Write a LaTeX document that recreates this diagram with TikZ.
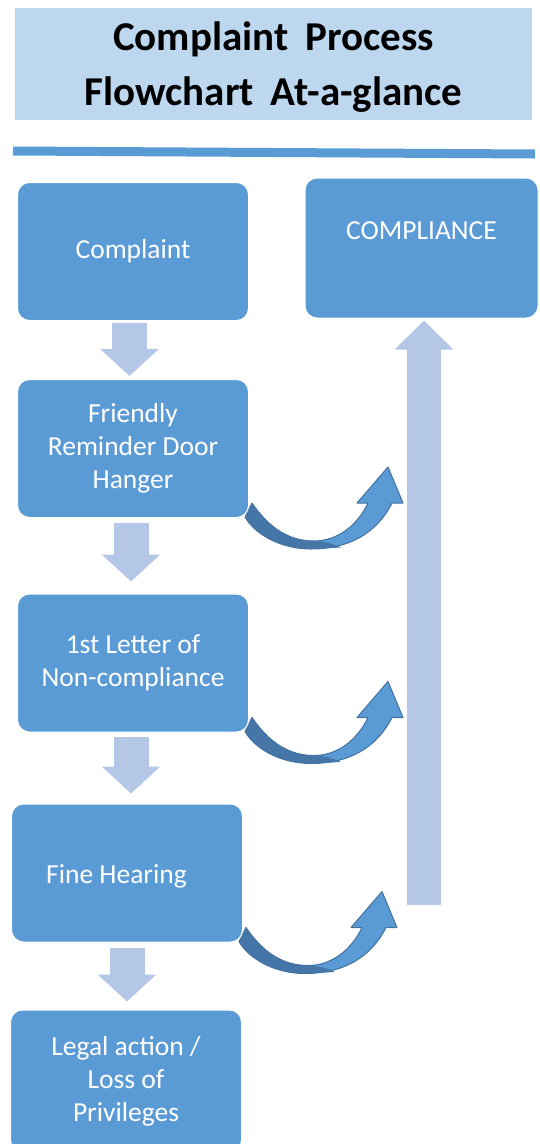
\documentclass[tikz,border=0pt]{standalone}
\usepackage{fontspec}
\setmainfont{Carlito}
\usetikzlibrary{arrows.meta,positioning,backgrounds}
\definecolor{boxblue}{HTML}{5B9BD5}
\definecolor{paleblue}{HTML}{B4C7E7}
\definecolor{titleblue}{HTML}{BDD7EE}
\definecolor{bandline}{HTML}{41719C}
\definecolor{banddark}{HTML}{4675A8}

\tikzset{
  stepbox/.style={draw=white, line width=1pt, fill=boxblue, rounded corners=12pt,
    minimum width=231pt, minimum height=138pt, inner sep=0pt},
  boxtext/.style={text=white, font=\fontsize{27.5}{33}\selectfont, align=center},
  titlebox/.style={fill=titleblue, minimum width=517pt, minimum height=112pt,
    font=\bfseries\fontsize{41}{55}\selectfont, align=center},
  downarrow/.style={draw=paleblue, line width=35pt, -{Triangle[width=57pt,length=27pt]}},
  uparrow/.style={draw=paleblue, line width=34pt, -{Triangle[width=57pt,length=29pt]}},
  bend arrow/.pic={
    % ribbon and head
    \filldraw[draw=bandline, fill=boxblue, line width=1pt, line join=round]
      (3,-15) .. controls (20,10) and (40,23) .. (65,23)
      .. controls (88,23) and (108,8) .. (119,-15)
      -- (108,-15) -- (139,-51) -- (154,-15) -- (143,-15)
      .. controls (128,15) and (100,31) .. (62,31)
      .. controls (30,31) and (5,15) .. (-4,-1) -- cycle;
    % darker underside
    \fill[banddark]
      (3,-15) .. controls (20,10) and (40,23) .. (65,23)
      .. controls (75,23) and (85,26) .. (92,29.5)
      -- (62,31)
      .. controls (30,31) and (5,15) .. (-4,-1) -- cycle;
  }
}

\begin{document}
\begin{tikzpicture}[x=1pt, y=-1pt]
  \clip (0,0) rectangle (540,1144);

  % title and rule
  \node[titlebox] (title) at (273.5,64) {};
  \node[font=\bfseries\fontsize{41}{55}\selectfont, align=center] (titletext) at ([yshift=-3pt]title.center)
    {Complaint\hspace{17pt}Process\\Flowchart\hspace{17pt}At-a-glance};
  \draw[boxblue, line width=9pt] (13,151) -- (535,154);

  % steps
  \node[stepbox, boxtext] (complaint) at (133,251.5) {Complaint};
  \node[stepbox, boxtext, minimum width=233pt, minimum height=140pt] (compliance) at (421.5,248) {};
  \node[boxtext] (compliancetext) at ([yshift=17pt]compliance.center) {COMPLIANCE};
  \node[stepbox, boxtext] (reminder) at (133,448.5) {Friendly\\Reminder Door\\Hanger};
  \node[stepbox, boxtext] (letter) at (133,663) {1st Letter of\\Non-compliance};
  \node[stepbox, boxtext] (fine) at (127,873) {};
  \node[boxtext, anchor=west, inner sep=0pt] (finetext) at ([xshift=35pt,yshift=-3pt]fine.west) {Fine Hearing};
  \node[stepbox, boxtext, minimum height=142pt] (legal) at (126,1081) {Legal action /\\Loss of\\Privileges};

  % down arrows
  \draw[downarrow, shorten <=2pt, shorten >=3pt] ([xshift=-3.5pt]complaint.south) -- ([xshift=-3.5pt]reminder.north);
  \draw[downarrow, shorten <=5pt, shorten >=12pt] ([xshift=-2pt]reminder.south) -- ([xshift=-2pt]letter.north);
  \draw[downarrow, shorten <=4pt, shorten >=10pt] ([xshift=-2pt]letter.south) -- ([xshift=-2pt]letter.south |- fine.north);
  \draw[downarrow, shorten <=5pt, shorten >=8pt] (fine.south) -- (fine.south |- legal.north);

  % way back to compliance
  \coordinate (upstart) at (424,905);
  \draw[uparrow, shorten >=2pt] (upstart) -- ([xshift=2.5pt]compliance.south);

  \begin{scope}[on background layer]
    \pic at (reminder.south east) {bend arrow};
    \pic at (letter.south east) {bend arrow};
    \pic at (fine.south east) {bend arrow};
  \end{scope}
\end{tikzpicture}
\end{document}
